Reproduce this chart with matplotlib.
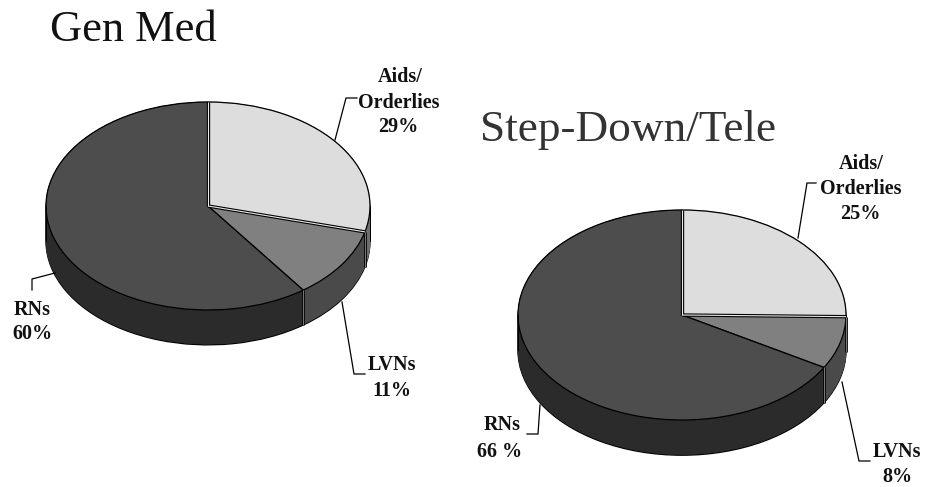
import numpy as np
import matplotlib
matplotlib.use("Agg")
import matplotlib.pyplot as plt

plt.rcParams['font.family'] = ['Liberation Serif', 'DejaVu Serif']

W, H = 925, 487

# share of staff, clockwise from 12 o'clock
gen_med = [29, 11, 60]
step_down = [25, 8, 66]

top_colors = ['#dddddd', '#808080', '#4d4d4d']
side_colors = ['#6e6e6e', '#4a4a4a', '#2b2b2b']

DEPTH = 0.335


def pie_3d(values, cx, cy, rx, ry):
    # axes box in pixels so that the unit pie lands on the ellipse
    x0, x1 = -1.1, 1.1
    y0, y1 = -1.5, 1.1
    left = cx + x0 * rx
    bottom = (H - cy) + y0 * ry
    ax = fig.add_axes([left / W, bottom / H, (x1 - x0) * rx / W, (y1 - y0) * ry / H])

    # bottom rim with outline, then wall layers up to the top face
    ax.pie(values, colors=side_colors, startangle=90, counterclock=False, center=(0, -DEPTH),
           wedgeprops=dict(edgecolor='black', linewidth=1.0))
    for d in np.linspace(DEPTH - 0.006, 0, 50):
        layer, _ = ax.pie(values, colors=side_colors, startangle=90, counterclock=False, center=(0, -d))
        for w in layer:
            w.set_edgecolor(w.get_facecolor())
            w.set_linewidth(0.4)

    wedges, _ = ax.pie(values, colors=top_colors, startangle=90, counterclock=False,
                       wedgeprops=dict(edgecolor='black', linewidth=0.9))

    # seams on the top face and the visible wall
    # clockwise wedges: theta1 is the far end of each slice
    for i, w in enumerate(wedges):
        a = np.radians(w.theta1)
        x, y = np.cos(a), np.sin(a)
        if i != 1:
            ax.plot([0, x], [0, y], color='black', lw=2.4, solid_capstyle='butt', zorder=5)
            ax.plot([0, x], [0, y], color='#e8e8e8', lw=0.8, solid_capstyle='butt', zorder=6)
        if y < 0.05:
            ax.plot([x, x], [y, y - DEPTH], color='black', lw=2.0, solid_capstyle='butt', zorder=5)
            ax.plot([x, x], [y, y - DEPTH], color='#777777', lw=0.8, solid_capstyle='butt', zorder=6)
    for sx in (-1, 1):
        ax.plot([sx, sx], [0, -DEPTH], color='black', lw=0.7, zorder=5)

    ax.set_aspect('auto')
    ax.set_xlim(x0, x1)
    ax.set_ylim(y0, y1)


fig = plt.figure(figsize=(W / 100, H / 100), dpi=100, facecolor='white')

pie_3d(gen_med, 208, 206, 162, 104)
pie_3d(step_down, 682, 315, 164, 105)

# overlay in pixel coordinates for the labels and leader lines
over = fig.add_axes([0, 0, 1, 1], facecolor='none')
over.set_xlim(0, W)
over.set_ylim(H, 0)
over.axis('off')

over.text(50, 30, 'Gen Med', fontsize=32, color='#111111', ha='left', va='center')
over.text(480, 130, 'Step-Down/Tele', fontsize=32.6, color='#333333', ha='left', va='center')

labels = [
    ('Aids/', 400, 77), ('Orderlies', 399, 103), ('29%', 398, 127),
    ('LVNs', 392, 365), ('11%', 392, 391),
    ('RNs', 32, 310), ('60%', 32, 334),
    ('Aids/', 861, 164), ('Orderlies', 861, 189), ('25%', 860, 214),
    ('LVNs', 897, 452), ('8%', 897, 477),
    ('RNs', 502, 425), ('66 %', 500, 452),
]
for s, x, y in labels:
    over.text(x, y, s, fontsize=14.5, fontweight='bold', color='#111111', ha='center', va='center')

leaders = [
    ([335, 346, 357], [140, 98, 98]),
    ([342, 354, 365], [302, 374, 374]),
    ([55, 32, 32], [273, 279, 290]),
    ([798, 807, 816], [238, 183, 183]),
    ([842, 859, 870], [382, 461, 461]),
    ([540, 538, 527], [405, 434, 434]),
]
for xs, ys in leaders:
    over.plot(xs, ys, color='black', lw=0.9)

fig.savefig('out.png', dpi=100)
